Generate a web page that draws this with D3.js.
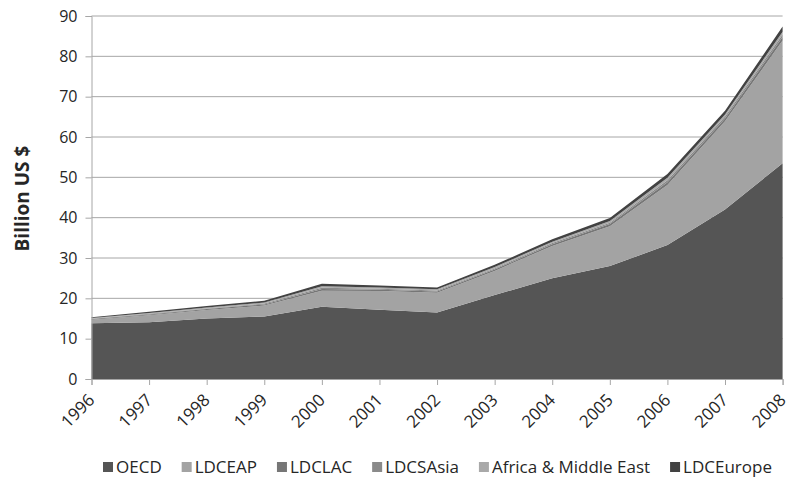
<html>
<head>
<script src="https://d3js.org/d3.v7.min.js"></script>
<style>
  body { margin: 0; background: #fff; }
  text { font-family: "Open Sans", "Noto Sans", sans-serif; fill: #262626; }
</style>
</head>
<body>
<svg id="chart" width="787" height="488"></svg>
<script>
// values in billion US $
const years = ["1996","1997","1998","1999","2000","2001","2002","2003","2004","2005","2006","2007","2008"];
const seriesNames = ["OECD", "LDCEAP", "LDCLAC", "LDCSAsia", "Africa & Middle East", "LDCEurope"];
const oecd      = [13.8, 14.1, 15.0, 15.5, 17.9, 17.2, 16.5, 20.8, 25.0, 28.0, 33.2, 42.0, 53.5];
const ldceap    = [0.9, 1.7, 2.1, 2.7, 4.0, 4.6, 4.9, 6.0, 8.0, 9.9, 14.9, 21.9, 30.4];
const ldclac    = [0.15, 0.2, 0.25, 0.3, 0.4, 0.35, 0.3, 0.35, 0.4, 0.5, 0.7, 0.7, 0.9];
const ldcsasia  = [0.1, 0.15, 0.15, 0.2, 0.3, 0.25, 0.25, 0.25, 0.3, 0.35, 0.5, 0.5, 0.6];
const africaME  = [0.15, 0.2, 0.2, 0.25, 0.4, 0.3, 0.3, 0.35, 0.35, 0.45, 0.6, 0.5, 0.7];
const ldceurope = [0.2, 0.35, 0.4, 0.45, 0.6, 0.5, 0.45, 0.55, 0.6, 0.7, 0.9, 0.9, 1.3];
const yTicks = [0, 10, 20, 30, 40, 50, 60, 70, 80, 90];
const colors = ["#555555", "#a3a3a3", "#767676", "#8a8a8a", "#a9a9a9", "#424242"];

const allSeries = [oecd, ldceap, ldclac, ldcsasia, africaME, ldceurope];
const table = years.map((y, i) => {
  const row = { year: y };
  seriesNames.forEach((n, j) => row[n] = allSeries[j][i]);
  return row;
});

const svg = d3.select("#chart");
const plotL = 91.5, plotR = 782.6, plotT = 16, plotB = 379;

const x = d3.scalePoint().domain(years).range([plotL, plotR]);
const y = d3.scaleLinear().domain([0, 90]).range([plotB, plotT]);

// gridlines
svg.append("g").selectAll("line")
  .data(yTicks.slice(1))
  .join("line")
  .attr("x1", plotL).attr("x2", plotR)
  .attr("y1", d => y(d)).attr("y2", d => y(d))
  .attr("stroke", "#a6a6a6").attr("stroke-width", 1);

const stacked = d3.stack().keys(seriesNames)(table);
const area = d3.area()
  .x(d => x(d.data.year))
  .y0(d => y(d[0]))
  .y1(d => y(d[1]));

svg.append("g").selectAll("path")
  .data(stacked)
  .join("path")
  .attr("fill", (d, i) => colors[i])
  .attr("d", area);

// y axis
const yAxis = svg.append("g")
  .attr("transform", `translate(${plotL},0)`)
  .call(d3.axisLeft(y).tickValues(yTicks).tickSize(6).tickPadding(8));
yAxis.select(".domain").attr("stroke", "#a6a6a6");
yAxis.selectAll(".tick line").attr("stroke", "#a6a6a6");
yAxis.selectAll(".tick text")
  .style("font-size", "16px").attr("fill", "#262626")
  .style("font-family", "'Open Sans', sans-serif");

// x axis
const xAxis = svg.append("g")
  .attr("transform", `translate(0,${plotB})`)
  .call(d3.axisBottom(x).tickSize(6).tickFormat(""));
xAxis.select(".domain").attr("stroke", "#a6a6a6");
xAxis.selectAll(".tick line").attr("stroke", "#a6a6a6");

svg.append("g").selectAll("text")
  .data(years)
  .join("text")
  .attr("transform", d => `translate(${x(d)},${plotB + 18}) rotate(-45)`)
  .attr("text-anchor", "end")
  .attr("dy", "0.35em")
  .style("font-size", "17px")
  .text(d => d);

// y title
svg.append("text")
  .attr("transform", `translate(29,${(plotT + plotB) / 2 + 1}) rotate(-90)`)
  .attr("text-anchor", "middle")
  .style("font-size", "19px")
  .style("font-weight", "bold")
  .attr("fill", "#000")
  .text("Billion US $");

// legend, spread over the same width as the original
const legendL = 103, legendR = 772;
const legend = svg.append("g").attr("transform", `translate(${legendL},472)`);
const items = seriesNames.map((n, i) => {
  const g = legend.append("g");
  g.append("rect").attr("x", 0).attr("y", -10).attr("width", 10).attr("height", 10)
    .attr("fill", colors[i]);
  const t = g.append("text").attr("x", 13).attr("y", 1)
    .style("font-size", "17px").text(n);
  return { g, w: 13 + t.node().getComputedTextLength() };
});
const gap = (legendR - legendL - d3.sum(items, d => d.w)) / (items.length - 1);
let lx = 0;
items.forEach(it => {
  it.g.attr("transform", `translate(${lx},0)`);
  lx += it.w + gap;
});
</script>
</body>
</html>
